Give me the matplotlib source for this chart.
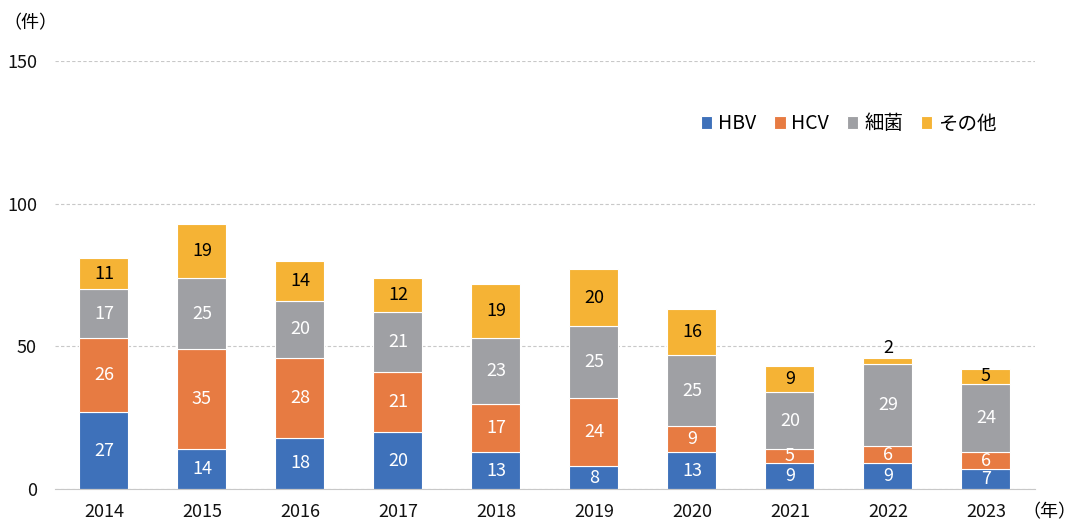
import numpy as np
import matplotlib.pyplot as plt

plt.rcParams['font.family'] = ['Noto Sans CJK JP', 'DejaVu Sans']

years = ['2014', '2015', '2016', '2017', '2018', '2019', '2020', '2021', '2022', '2023']
hbv = [27, 14, 18, 20, 13, 8, 13, 9, 9, 7]
hcv = [26, 35, 28, 21, 17, 24, 9, 5, 6, 6]
bacteria = [17, 25, 20, 21, 23, 25, 25, 20, 29, 24]
other = [11, 19, 14, 12, 19, 20, 16, 9, 2, 5]
series_names = ['HBV', 'HCV', '細菌', 'その他']
colors = ['#3E71BA', '#E77B42', '#9FA0A4', '#F5B335']
text_colors = ['white', 'white', 'white', 'black']

fig = plt.figure(figsize=(10.78, 5.22), dpi=100)
ax = fig.add_axes([0.051, 0.063, 0.909, 0.82])

x = np.arange(len(years))
bottom = np.zeros(len(years))
for vals, name, c, tc in zip([hbv, hcv, bacteria, other], series_names, colors, text_colors):
    vals = np.array(vals)
    ax.bar(x, vals, 0.5, bottom=bottom, color=c, edgecolor='white', linewidth=0.8,
           label=name, zorder=3)
    for xi, b, v in zip(x, bottom, vals):
        if v < 3:
            # too thin for an inside label, put it above the bar
            ax.text(xi, b + v + 0.3, str(v), ha='center', va='bottom', fontsize=13, color='black', zorder=4)
        else:
            ax.text(xi, b + v / 2, str(v), ha='center', va='center', fontsize=13, color=tc, zorder=4)
    bottom += vals

ax.set_xlim(-0.5, len(years) - 0.5)
ax.set_ylim(0, 150)
ax.set_yticks([0, 50, 100, 150])
ax.set_xticks(x)
ax.set_xticklabels(years)
ax.tick_params(axis='both', length=0, labelsize=13, colors='#111111')
ax.tick_params(axis='x', pad=10)
ax.tick_params(axis='y', pad=13)
ax.yaxis.grid(True, linestyle=(0, (3, 2)), color='#C8C8C8', linewidth=0.8, zorder=0)
for s in ['top', 'right', 'left']:
    ax.spines[s].set_visible(False)
ax.spines['bottom'].set_color('#C8C8C8')
ax.spines['bottom'].set_zorder(5)

fig.text(0.003, 0.955, '（件）', ha='left', va='center', fontsize=13)
fig.text(0.999, 0.018, '（年）', ha='right', va='center', fontsize=13)

ax.legend(loc='center', bbox_to_anchor=(0.81, 0.853), ncol=4, frameon=False, fontsize=14,
          handlelength=0.6, handleheight=0.6, handletextpad=0.3, columnspacing=0.9)

fig.savefig('out.png', dpi=100)
